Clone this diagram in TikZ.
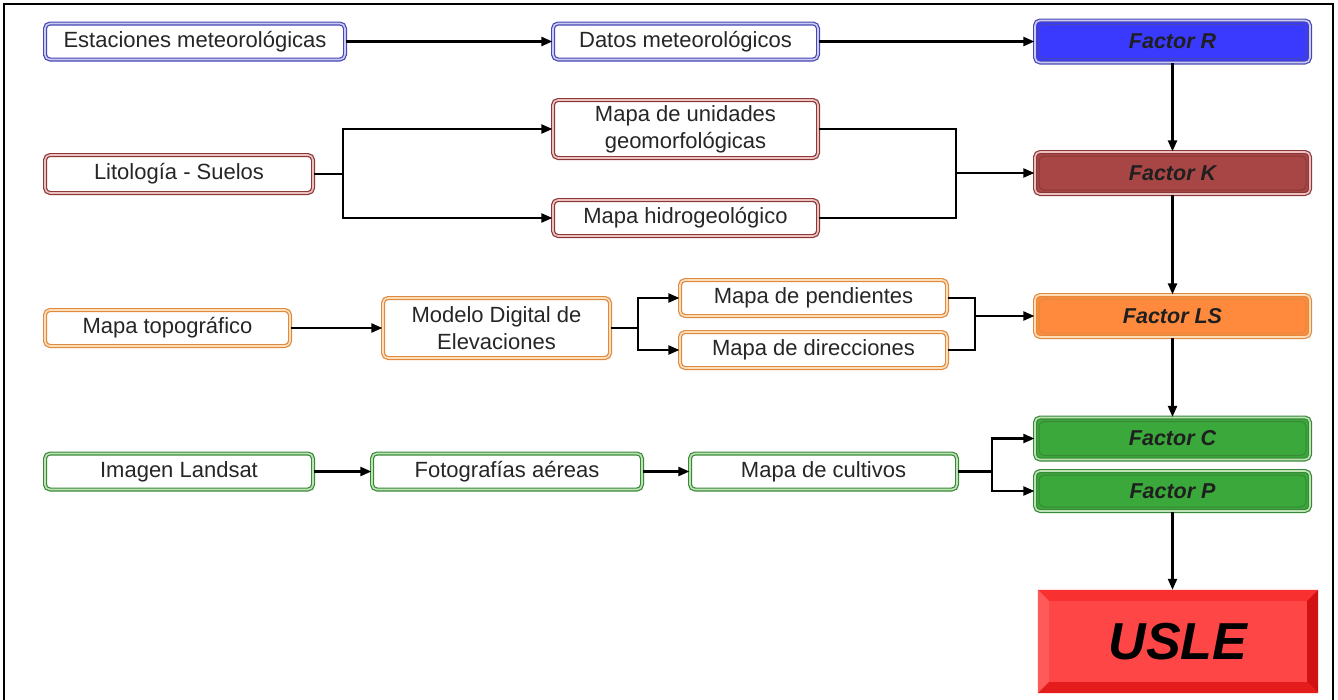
\documentclass[tikz,border=0pt]{standalone}
\usepackage{fontspec}
\setmainfont{Liberation Sans}
\usetikzlibrary{positioning,calc,arrows.meta}
\definecolor{textgray}{HTML}{262626}
\definecolor{blueline}{HTML}{4646B4}
\definecolor{bluepale}{HTML}{CACAF2}
\definecolor{bluefill}{HTML}{3A3AFF}
\definecolor{redline}{HTML}{8A3838}
\definecolor{redpale}{HTML}{EDC0C0}
\definecolor{redfill}{HTML}{A84646}
\definecolor{orangeline}{HTML}{E08A40}
\definecolor{orangepale}{HTML}{FBDDB8}
\definecolor{orangefill}{HTML}{FF8A3D}
\definecolor{greenline}{HTML}{388838}
\definecolor{greenpale}{HTML}{BDE3B5}
\definecolor{greenfill}{HTML}{3AA83A}
\definecolor{usleface}{HTML}{FF4646}
\definecolor{uslelight}{HTML}{F83030}
\definecolor{usleside}{HTML}{FF5A5A}
\definecolor{usledark}{HTML}{D01212}
\definecolor{uslelow}{HTML}{E41C1C}

\begin{document}
\begin{tikzpicture}[x=1pt, y=-1pt,
  box/.style={draw=#1line, double=#1pale, double distance=1.6pt, line width=1.2pt, rounded corners=5pt, fill=white, inner sep=0pt, minimum width=265pt, minimum height=36pt, align=center, text=textgray, font=\fontsize{22}{27}\selectfont},
  factor/.style={box=#1, fill=#1fill, minimum width=275pt, minimum height=42pt, text=black!88, font=\fontsize{21.5}{25}\selectfont\bfseries\itshape,
    path picture={\draw[#1line, line width=1pt] ([shift={(4,4)}]path picture bounding box.north west) rectangle ([shift={(-4,-4)}]path picture bounding box.south east);}},
  arrow/.style={-{Triangle[length=11pt,width=9pt]}, line width=2.2pt},
  link/.style={line width=2.2pt}]
\useasboundingbox (0,0) rectangle (1338,699);
\draw[line width=2pt] (4,702) -- (4,4) -- (1333,4) -- (1333,702);

% row R
\node[box=blue, minimum width=300pt] (est) at (195,41.5) {Estaciones meteorológicas};
\node[box=blue] (datos) at (685.5,41.5) {Datos meteorológicos};
\node[factor=blue] (fr) at (1172.5,41.5) {Factor R};
\draw[arrow] (est) -- (datos);
\draw[arrow] (datos) -- (fr);

% row K
\node[box=red, minimum width=268pt, minimum height=38pt] (lit) at (179,174) {Litología - Suelos};
\node[box=red, minimum height=58pt] (unid) at (685.5,129) {Mapa de unidades\\geomorfológicas};
\node[box=red] (hidro) at (685.5,218) {Mapa hidrogeológico};
\node[factor=red] (fk) at (1172.5,173) {Factor K};
\coordinate (jlit) at (343,174);
\coordinate (jk) at (956,173);
\draw[link] (lit) -- (jlit);
\draw[arrow] (jlit) |- (unid);
\draw[arrow] (jlit) |- (hidro);
\draw[link] (unid) -| (jk);
\draw[link] (hidro) -| (jk);
\draw[arrow] (jk) -- (fk);

% row LS
\node[box=orange, minimum width=245pt] (topo) at (167.5,328) {Mapa topográfico};
\node[box=orange, minimum width=227pt, minimum height=60pt] (modelo) at (496.5,328) {Modelo Digital de\\Elevaciones};
\node[box=orange, minimum width=267pt] (pend) at (813.5,298) {Mapa de pendientes};
\node[box=orange, minimum width=267pt] (dir) at (813.5,350) {Mapa de direcciones};
\node[factor=orange] (fls) at (1172.5,316) {Factor LS};
\coordinate (jmod) at (638,328);
\coordinate (jls) at (975,316);
\draw[arrow] (topo) -- (modelo);
\draw[link] (modelo) -- (jmod);
\draw[arrow] (jmod) |- (pend);
\draw[arrow] (jmod) |- (dir);
\draw[link] (pend) -| (jls);
\draw[link] (dir) -| (jls);
\draw[arrow] (jls) -- (fls);

% row C / P
\node[box=green, minimum width=268pt] (landsat) at (179,471.5) {Imagen Landsat};
\node[box=green, minimum width=270pt] (foto) at (507,471.5) {Fotografías aéreas};
\node[box=green, minimum width=267pt] (cult) at (823.5,471.5) {Mapa de cultivos};
\node[factor=green] (fc) at (1172.5,438.5) {Factor C};
\node[factor=green, minimum height=40pt] (fp) at (1172.5,491) {Factor P};
\coordinate (jcult) at (992,471.5);
\draw[arrow] (landsat) -- (foto);
\draw[arrow] (foto) -- (cult);
\draw[link] (cult) -- (jcult);
\draw[arrow] (jcult) |- (fc);
\draw[arrow] (jcult) |- (fp);

% USLE
\node[fill=usleface, minimum width=280pt, minimum height=103pt, inner sep=0pt, font=\fontsize{52}{58}\selectfont\bfseries\itshape] (usle) at (1178,641.5) {USLE};
\fill[uslelight] (usle.north west) -- (usle.north east) -- ($(usle.north east)+(-11,11)$) -- ($(usle.north west)+(11,11)$) -- cycle;
\fill[usleside] (usle.north west) -- ($(usle.north west)+(11,11)$) -- ($(usle.south west)+(11,-11)$) -- (usle.south west) -- cycle;
\fill[usledark] (usle.north east) -- (usle.south east) -- ($(usle.south east)+(-11,-11)$) -- ($(usle.north east)+(-11,11)$) -- cycle;
\fill[uslelow] (usle.south west) -- ($(usle.south west)+(11,-11)$) -- ($(usle.south east)+(-11,-11)$) -- (usle.south east) -- cycle;

\draw[arrow] (fr) -- (fk);
\draw[arrow] (fk) -- (fls);
\draw[arrow] (fls) -- (fc);
\draw[arrow] (fp.south) -- (fp.south |- usle.north);
\end{tikzpicture}
\end{document}
